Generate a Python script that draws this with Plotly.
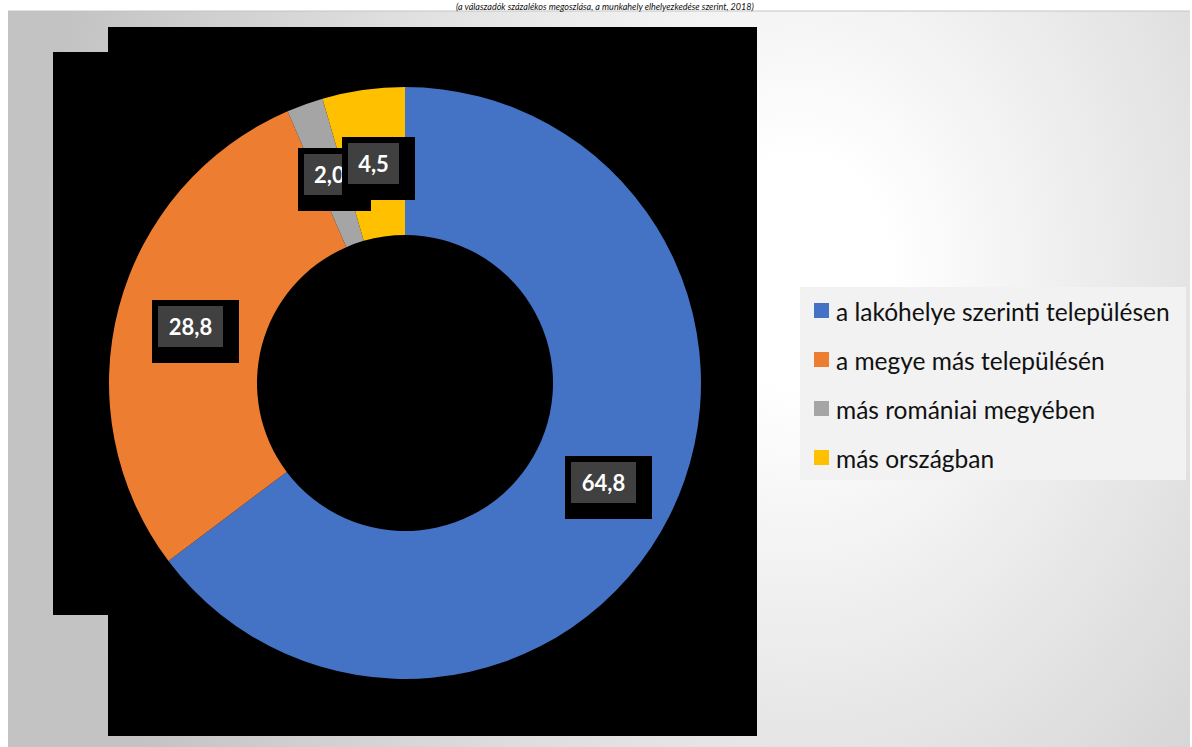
import base64
import math
import plotly.graph_objects as go

# ---------------- data ----------------
categories = [
    "a lakóhelye szerinti településen",
    "a megye más településén",
    "más romániai megyében",
    "más országban",
]
values = [64.8, 28.8, 2.0, 4.5]
colors = ["#4472C4", "#ED7D31", "#A5A5A5", "#FFC000"]
title_text = "(a válaszadók százalékos megoszlása, a munkahely elhelyezkedése szerint, 2018)"

# ---------------- geometry helpers ----------------
W, H = 1192, 747
def px(x):
    return x / W
def py(y):
    return 1 - y / H

# donut placement (pixels)
CX, CY, R = 405, 383, 296
HOLE = 0.5

fig = go.Figure()

fig.add_trace(go.Pie(
    labels=categories,
    values=values,
    marker=dict(colors=colors, line=dict(width=0)),
    hole=HOLE,
    sort=False,
    direction="clockwise",
    rotation=0,
    textinfo="none",
    showlegend=False,
    hoverinfo="label+value",
    domain=dict(x=[px(CX - R), px(CX + R)], y=[py(CY + R), py(CY - R)]),
))

# ---------------- background gradient (svg image) ----------------
svg = (
    '<svg xmlns="http://www.w3.org/2000/svg" width="1182" height="736" viewBox="0 0 1182 736">'
    '<defs><radialGradient id="g" gradientUnits="userSpaceOnUse" cx="790" cy="260" r="760" '
    'gradientTransform="translate(790 260) scale(1 1.25) translate(-790 -260)">'
    '<stop offset="0" stop-color="#ffffff"/><stop offset="0.12" stop-color="#ffffff"/>'
    '<stop offset="1" stop-color="#c3c3c3"/></radialGradient></defs>'
    '<rect x="0" y="0" width="1182" height="736" fill="url(#g)"/></svg>'
)
src = "data:image/svg+xml;base64," + base64.b64encode(svg.encode()).decode()
fig.add_layout_image(dict(
    source=src, xref="paper", yref="paper",
    x=px(8), y=py(11), sizex=px(1190) - px(8), sizey=py(11) - py(747),
    xanchor="left", yanchor="top", sizing="stretch", layer="below",
))

shapes = [
    dict(type="line", xref="paper", yref="paper", x0=px(8), x1=px(1190), y0=py(11), y1=py(11),
         line=dict(color="#c4c4c4", width=1), layer="below"),
    dict(type="rect", xref="paper", yref="paper", x0=px(108), x1=px(757), y0=py(736), y1=py(27),
         fillcolor="#000000", line=dict(width=0), layer="below"),
    dict(type="rect", xref="paper", yref="paper", x0=px(53), x1=px(108.5), y0=py(615), y1=py(52),
         fillcolor="#000000", line=dict(width=0), layer="below"),
    # legend box
    dict(type="rect", xref="paper", yref="paper", x0=px(800), x1=px(1186), y0=py(480), y1=py(287),
         fillcolor="#f2f2f2", line=dict(width=0), layer="below"),
]

annotations = []

# ---------------- data labels (positioned from the data) ----------------
total = sum(values)
cum = 0.0
r_mid = R * (1 + HOLE) / 2
for v in values:
    mid = (cum + v / 2) / total * 2 * math.pi
    cum += v
    lx = CX + r_mid * math.sin(mid)
    ly = CY - r_mid * math.cos(mid)
    txt = f"{v:.1f}".replace(".", ",")
    bw = 14 * len(txt) + 9
    bh = 41
    # black shadow box
    annotations.append(dict(
        x=px(lx), y=py(ly), xref="paper", yref="paper", text=" ", showarrow=False,
        width=bw + 22, height=bh + 22, xshift=5, yshift=-5,
        bgcolor="#000000", borderwidth=0, borderpad=0,
        xanchor="center", yanchor="middle",
    ))
    # label box
    annotations.append(dict(
        x=px(lx), y=py(ly), xref="paper", yref="paper", text=f"<b>{txt}</b>", showarrow=False,
        width=bw, height=bh, bgcolor="#404040", borderwidth=0, borderpad=0,
        font=dict(family="Lato", size=22, color="#ffffff"),
        xanchor="center", yanchor="middle", align="center", valign="middle",
    ))

# ---------------- legend (built from categories / colors) ----------------
LEG_X, LEG_Y0, LEG_DY, SQ = 814, 310.5, 49, 15
for i, (cat, col) in enumerate(zip(categories, colors)):
    yc = LEG_Y0 + i * LEG_DY
    shapes.append(dict(type="rect", xref="paper", yref="paper",
                       x0=px(LEG_X), x1=px(LEG_X + SQ), y0=py(yc + SQ / 2), y1=py(yc - SQ / 2),
                       fillcolor=col, line=dict(width=0)))
    annotations.append(dict(
        x=px(834), y=py(yc + 1), xref="paper", yref="paper", text=cat, showarrow=False,
        xanchor="left", yanchor="middle",
        font=dict(family="Lato", size=24.5, color="#111111"),
    ))

# ---------------- title (small, in the white strip at the top) ----------------
annotations.append(dict(
    x=px(605), y=py(0), xref="paper", yref="paper", text=f"<i>{title_text}</i>",
    showarrow=False, xanchor="center", yanchor="top",
    font=dict(family="Lato", size=9, color="#111111"), borderpad=0,
))

fig.update_layout(
    width=W, height=H,
    margin=dict(l=0, r=0, t=0, b=0),
    paper_bgcolor="#ffffff",
    plot_bgcolor="#ffffff",
    shapes=shapes,
    annotations=annotations,
    showlegend=False,
)

fig.write_html(
    "out.html",
    config={"displayModeBar": False},
    post_script="document.body.style.margin='0';document.body.style.overflow='hidden';",
)
